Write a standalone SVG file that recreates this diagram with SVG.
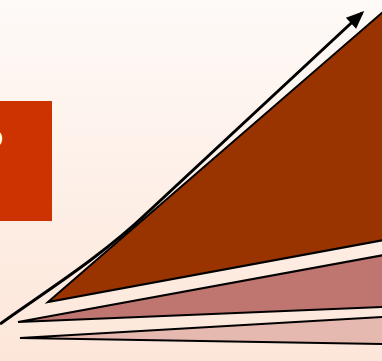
<svg xmlns="http://www.w3.org/2000/svg" width="382" height="361" viewBox="0 0 382 361">
<defs>
<linearGradient id="bg" x1="0" y1="0" x2="0" y2="1">
<stop offset="0" stop-color="#FEFAF7"/>
<stop offset="1" stop-color="#FDE6D9"/>
</linearGradient>
<marker id="ah" markerWidth="6" markerHeight="5" refX="5" refY="2.5" orient="auto" markerUnits="strokeWidth" overflow="visible">
<path d="M0,0 L6,2.5 L0,5 Z" fill="#000"/>
</marker>
<style>
.tri{stroke:#000;stroke-width:2;stroke-linejoin:miter}
.lbl{font-family:"Liberation Sans",Arial,sans-serif;font-weight:bold;fill:#fff}
</style>
</defs>
<rect width="382" height="361" fill="url(#bg)"/>
<g id="box">
<rect x="0" y="101" width="52" height="120" fill="#CC3300"/>
<text class="lbl" x="3" y="147" font-size="24" text-anchor="end">D</text>
</g>
<g id="tri-light">
<path class="tri" d="M20,338 L384,317 L384,344 Z" fill="#E5B9AF"/>
</g>
<g id="tri-pink">
<path class="tri" d="M18,322 L384,255 L384,307 Z" fill="#BF7570"/>
</g>
<g id="tri-brown">
<path class="tri" d="M48,302 L384,11 L384,240 Z" fill="#993300"/>
</g>
<g id="connectors">
<path d="M0,324 C40,295 100,258 148,212 L362,13" fill="none" stroke="#000" stroke-width="3" marker-end="url(#ah)"/>
</g>
</svg>
